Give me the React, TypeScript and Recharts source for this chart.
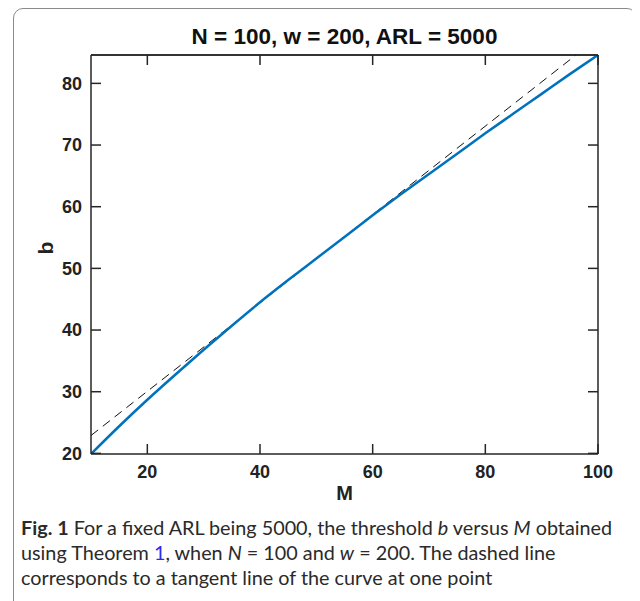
import React from 'react';
import { LineChart, Line, XAxis, YAxis, ReferenceLine } from 'recharts';

// threshold b against M (N = 100, w = 200, ARL = 5000)
const mValues = [10, 15, 20, 25, 30, 35, 40, 45, 50, 55, 60, 65, 70, 75, 80, 85, 90, 95, 100];
const bValues = [19.9, 24.4, 28.7, 32.8, 36.8, 40.7, 44.5, 48.1, 51.6, 55.1, 58.6, 62.0, 65.3, 68.6, 71.9, 75.1, 78.3, 81.5, 84.6];

// tangent line end points
const tangentM = [10, 100];
const tangentB = [22.9, 87.4];

const xTicks = [20, 40, 60, 80, 100];
const yTicks = [20, 30, 40, 50, 60, 70, 80];

const X_DOMAIN: [number, number] = [10, 100];
const Y_DOMAIN: [number, number] = [19.9, 84.6];

const curveData = mValues.map((m, i) => ({ M: m, b: bValues[i] }));
const tangentData = tangentM.map((m, i) => ({ M: m, b: tangentB[i] }));

const AXIS_COLOR = '#262626';
const chartFont = '"Liberation Sans", Arial, sans-serif';

const tickStyle = { fill: '#222', fontSize: 18, fontWeight: 700, fontFamily: chartFont };
// mirrored box axes keep their tick marks but show no numbers
const hiddenTick = { fill: 'transparent', fontSize: 1 };

export default function App() {
  return (
    <div style={{ position: 'relative', width: 632, height: 593, overflow: 'hidden' }}>
      <div
        style={{
          position: 'absolute',
          left: 5,
          top: 0,
          width: 622,
          height: 620,
          border: '1px solid #8a8a8a',
          borderRadius: 10,
        }}
      />
      <div style={{ position: 'absolute', left: 0, top: 0 }}>
        <LineChart
          width={624}
          height={500}
          margin={{ top: 37, right: 24, bottom: 8, left: 13 }}
          style={{ fontFamily: chartFont }}
        >
          <XAxis
            xAxisId="bottom"
            dataKey="M"
            type="number"
            domain={X_DOMAIN}
            allowDataOverflow
            ticks={xTicks}
            interval={0}
            height={46}
            orientation="bottom"
            stroke={AXIS_COLOR}
            strokeWidth={1.5}
            tickSize={-10}
            tickMargin={21}
            tick={tickStyle}
            label={{ value: 'M', position: 'insideBottom', offset: 0, style: { fontSize: 20, fontWeight: 700, fill: '#222' } }}
          />
          <XAxis
            xAxisId="top"
            dataKey="M"
            type="number"
            domain={X_DOMAIN}
            allowDataOverflow
            ticks={xTicks}
            interval={0}
            height={10}
            orientation="top"
            stroke={AXIS_COLOR}
            strokeWidth={1.5}
            tickSize={-10}
            tick={hiddenTick}
            label={{ value: 'N = 100, w = 200, ARL = 5000', position: 'top', offset: 1, style: { fontSize: 22.5, fontWeight: 700, fill: '#111' } }}
          />
          <YAxis
            yAxisId="left"
            type="number"
            domain={Y_DOMAIN}
            allowDataOverflow
            ticks={yTicks}
            interval={0}
            width={70}
            orientation="left"
            stroke={AXIS_COLOR}
            strokeWidth={1.5}
            tickSize={-10}
            tickMargin={19}
            tick={tickStyle}
            label={{ value: 'b', angle: -90, position: 'insideLeft', offset: 25, style: { fontSize: 21, fontWeight: 700, fill: '#222' } }}
          />
          <YAxis
            yAxisId="right"
            type="number"
            domain={Y_DOMAIN}
            allowDataOverflow
            ticks={yTicks}
            interval={0}
            width={10}
            orientation="right"
            stroke={AXIS_COLOR}
            strokeWidth={1.5}
            tickSize={-10}
            tick={hiddenTick}
          />
          {/* top edge of the axes box */}
          <ReferenceLine
            xAxisId="bottom"
            yAxisId="left"
            y={Y_DOMAIN[1]}
            stroke={AXIS_COLOR}
            strokeWidth={1.5}
          />
          <Line
            xAxisId="top"
            yAxisId="left"
            data={tangentData}
            dataKey="b"
            stroke="#111"
            strokeWidth={1}
            strokeDasharray="9 6"
            dot={false}
            activeDot={false}
            isAnimationActive={false}
          />
          <Line
            xAxisId="bottom"
            yAxisId="left"
            data={curveData}
            dataKey="b"
            type="monotone"
            stroke="#0072BD"
            strokeWidth={2.5}
            dot={false}
            activeDot={false}
            isAnimationActive={false}
          />
        </LineChart>
      </div>
      <div
        style={{
          position: 'absolute',
          left: 13,
          top: 507,
          width: 615,
          fontFamily: 'Lato, "Open Sans", sans-serif',
          fontSize: 19.8,
          lineHeight: '25px',
          color: '#2a2a2a',
        }}
      >
        <b>Fig. 1</b> For a fixed ARL being 5000, the threshold <i>b</i> versus <i>M</i> obtained using Theorem{' '}
        <span style={{ color: '#2b2bf0' }}>1</span>, when <i>N</i> = 100 and <i>w</i> = 200. The dashed line corresponds to
        a tangent line of the curve at one point
      </div>
    </div>
  );
}
